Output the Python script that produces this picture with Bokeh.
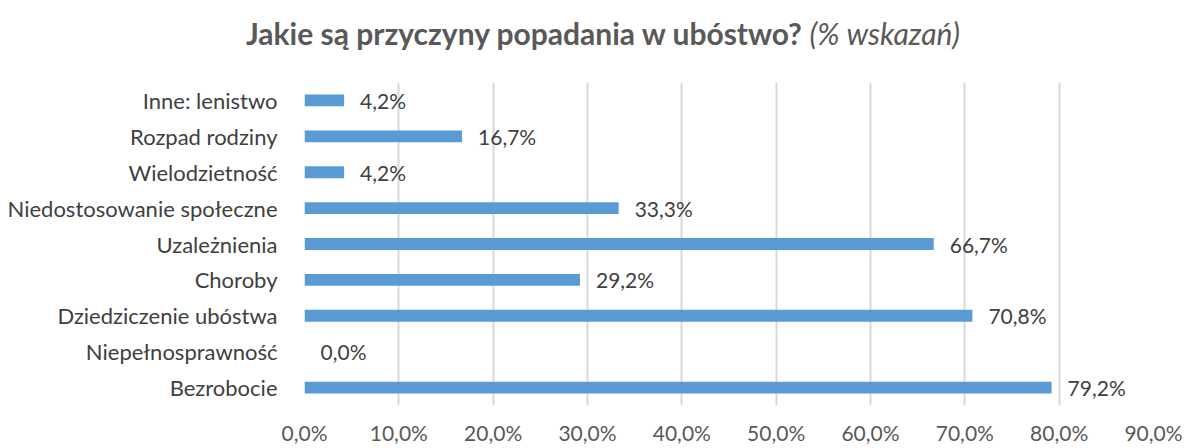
from bokeh.plotting import figure
from bokeh.layouts import column
from bokeh.models import FactorRange, Range1d, Div, FixedTicker, ColumnDataSource, CustomJSTickFormatter
from bokeh.core.properties import value
from bokeh.embed import file_html
from bokeh.resources import INLINE

categories = ["Bezrobocie", "Niepełnosprawność", "Dziedziczenie ubóstwa", "Choroby",
              "Uzależnienia", "Niedostosowanie społeczne", "Wielodzietność",
              "Rozpad rodziny", "Inne: lenistwo"]
values = [79.2, 0.0, 70.8, 29.2, 66.7, 33.3, 4.2, 16.7, 4.2]
x_ticks = [0, 10, 20, 30, 40, 50, 60, 70, 80, 90]
title_main = "Jakie są przyczyny popadania w ubóstwo?"
title_sub = "(% wskazań)"

FONT = "Lato"
TXT = "#404040"
TITLE_H = 56
FIG_H = 381

labels = [f"{v:.1f}".replace(".", ",") + "%" for v in values]
src = ColumnDataSource(dict(cat=categories, val=values, lab=labels))

title = Div(text=f'<span style="font-weight:bold">{title_main}</span> '
                 f'<span style="font-style:italic">{title_sub}</span>',
            width=1184, height=TITLE_H,
            styles={"font-family": FONT, "font-size": "30px", "color": "#595959",
                    "text-align": "center", "line-height": f"{TITLE_H}px",
                    "padding-left": "12px", "box-sizing": "border-box", "width": "1184px",
                    "white-space": "nowrap"})

p = figure(width=1184, height=FIG_H, output_backend="svg", toolbar_location=None,
           y_range=FactorRange(*categories, range_padding=0), x_range=Range1d(0, 90),
           min_border_left=304, min_border_right=31, min_border_top=16,
           min_border_bottom=42)
p.outline_line_color = None
p.background_fill_color = "white"

p.hbar(y="cat", right="val", height=0.33, source=src, fill_color="#5B9BD5", line_color=None)
p.text(x="val", y="cat", text="lab", source=src, x_offset=16, text_align="left",
       text_baseline="middle", text_font=value(FONT), text_font_size="21px", text_color=TXT)

p.xaxis.ticker = FixedTicker(ticks=x_ticks)
p.xaxis.formatter = CustomJSTickFormatter(code="return tick.toFixed(1).replace('.', ',') + '%';")
p.xaxis.axis_line_color = None
p.xaxis.major_tick_line_color = None
p.xaxis.minor_tick_line_color = None
p.xaxis.major_label_standoff = 8
p.xaxis.major_label_text_font = FONT
p.xaxis.major_label_text_font_size = "21px"
p.xaxis.major_label_text_color = "#595959"

p.yaxis.axis_line_color = None
p.yaxis.major_tick_line_color = None
p.yaxis.minor_tick_line_color = None
p.yaxis.major_label_standoff = 21
p.yaxis.major_label_text_font = FONT
p.yaxis.major_label_text_font_size = "22px"
p.yaxis.major_label_text_color = TXT

p.xgrid.grid_line_color = "#D9D9D9"
p.xgrid.grid_line_width = 2
p.ygrid.grid_line_color = None

layout = column(title, p, spacing=0)
open("out.html", "w").write(file_html(layout, INLINE))
